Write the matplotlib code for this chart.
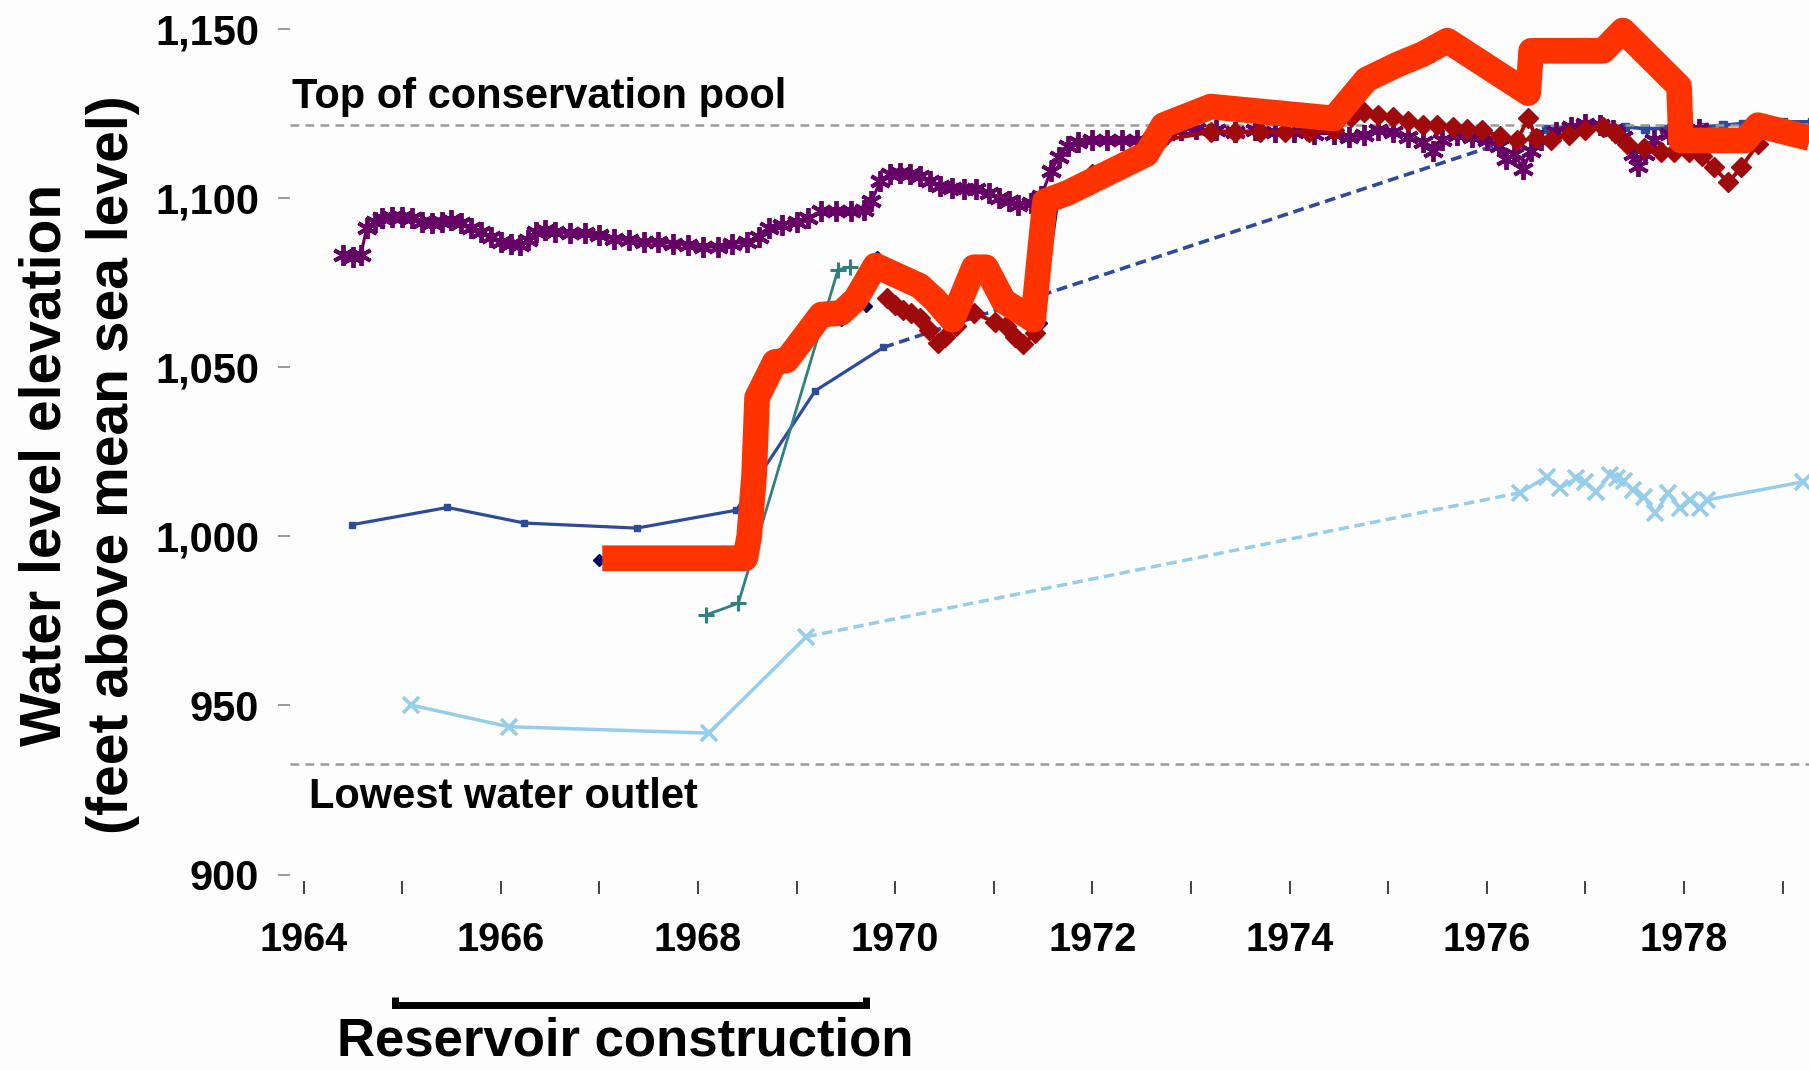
import numpy as np
import matplotlib.pyplot as plt
from matplotlib.ticker import FuncFormatter

plt.rcParams['font.family'] = ['Liberation Sans', 'DejaVu Sans']
plt.rcParams['font.weight'] = 'bold'

# Reference levels (feet above mean sea level)
top_pool = 1121.7
lowest_outlet = 932.8

# Blue well (squares), solid / dashed gap / solid
blue_yr_a = [1964.49, 1965.46, 1966.24, 1967.38, 1968.39, 1969.19, 1969.88]
blue_val_a = [1003.4, 1008.5, 1003.9, 1002.4, 1007.7, 1043.0, 1055.8]
blue_yr_b = [1969.88, 1976.60]
blue_val_b = [1055.8, 1120.5]
blue_yr_c = [1976.60, 1976.80, 1977.00, 1977.20, 1977.40, 1977.60, 1977.80,
             1978.00, 1978.20, 1978.40, 1978.60, 1978.80, 1979.00, 1979.30]
blue_val_c = [1120.5, 1121.0, 1121.5, 1121.5, 1121.0, 1120.5, 1120.5,
              1121.0, 1121.0, 1121.5, 1122.0, 1122.0, 1122.5, 1122.5]

# Light blue well (x markers)
lblue_yr_a = [1965.09, 1966.08, 1968.11, 1969.10]
lblue_val_a = [950.1, 943.7, 941.8, 970.3]
lblue_yr_b = [1969.10, 1976.34]
lblue_val_b = [970.3, 1012.9]
lblue_yr_c = [1976.34, 1976.61, 1976.74, 1976.91, 1977.00, 1977.11, 1977.25,
              1977.32, 1977.39, 1977.48, 1977.59, 1977.71, 1977.84, 1977.96,
              1978.06, 1978.16, 1978.23, 1979.21]
lblue_val_c = [1012.9, 1017.6, 1014.2, 1017.2, 1015.9, 1013.2, 1018.1,
               1017.2, 1016.2, 1013.7, 1011.7, 1006.8, 1012.8, 1008.3,
               1010.7, 1008.3, 1010.7, 1016.1]

# Teal well (+ markers)
teal_yr = [1968.08, 1968.41, 1969.42, 1969.54]
teal_val = [976.7, 980.2, 1078.7, 1079.6]

# Navy well (diamonds), almost entirely under the reservoir line
navy_yr = [1967.00, 1968.45, 1968.55, 1968.62, 1968.80, 1969.20, 1969.45,
           1969.70, 1969.82, 1970.25, 1970.55, 1970.80, 1970.95, 1971.20,
           1971.48, 1971.65, 1972.00, 1972.70, 1973.20, 1974.45, 1974.80,
           1975.45, 1975.60, 1976.40, 1976.45, 1977.20, 1977.40, 1977.95,
           1977.97, 1978.65, 1978.75, 1979.30]
navy_val = [993.0, 993.0, 1015.0, 1042.0, 1050.0, 1062.0, 1064.0,
            1068.0, 1082.5, 1073.0, 1063.0, 1078.0, 1078.5, 1068.0,
            1063.0, 1099.0, 1103.0, 1119.0, 1126.0, 1123.0, 1134.0,
            1142.0, 1146.0, 1131.0, 1143.0, 1143.0, 1148.0, 1132.0,
            1117.0, 1117.0, 1121.0, 1117.5]

# Purple well (asterisks)
purple_yr = [1964.40, 1964.50, 1964.58, 1964.64, 1964.72, 1964.80, 1964.90,
             1965.00, 1965.10, 1965.20, 1965.30, 1965.40, 1965.50, 1965.60,
             1965.70, 1965.80, 1965.90, 1966.00, 1966.10, 1966.20, 1966.28,
             1966.36, 1966.45, 1966.55, 1966.70, 1966.85, 1967.00, 1967.15,
             1967.30, 1967.45, 1967.60, 1967.75, 1967.90, 1968.05, 1968.20,
             1968.35, 1968.50, 1968.62, 1968.72, 1968.85, 1969.00, 1969.12,
             1969.25, 1969.40, 1969.55, 1969.68, 1969.76, 1969.85, 1969.95,
             1970.05, 1970.15, 1970.25, 1970.35, 1970.45, 1970.58, 1970.70,
             1970.82, 1970.95, 1971.05, 1971.15, 1971.25, 1971.38, 1971.48,
             1971.58, 1971.66, 1971.75, 1971.85, 1972.00, 1972.15, 1972.30,
             1972.45, 1972.60, 1972.75, 1972.90, 1973.05, 1973.25, 1973.45,
             1973.65, 1973.85, 1974.05, 1974.25, 1974.45, 1974.60, 1974.75,
             1974.90, 1975.05, 1975.20, 1975.35, 1975.45, 1975.55, 1975.70,
             1975.85, 1976.00, 1976.12, 1976.20, 1976.28, 1976.37, 1976.45,
             1976.55, 1976.70, 1976.85, 1977.00, 1977.15, 1977.28, 1977.38,
             1977.48, 1977.53, 1977.60, 1977.70, 1977.85, 1978.00, 1978.15]
purple_val = [1083.0, 1082.5, 1083.0, 1091.0, 1093.0, 1094.0, 1094.5,
              1094.5, 1094.0, 1093.0, 1092.5, 1093.0, 1093.5, 1092.5,
              1091.0, 1090.0, 1088.5, 1087.0, 1086.5, 1086.0, 1087.5,
              1090.0, 1090.5, 1090.0, 1089.5, 1089.5, 1089.0, 1088.0,
              1087.5, 1087.0, 1087.0, 1086.5, 1086.0, 1085.5, 1085.5,
              1086.5, 1087.0, 1088.5, 1091.0, 1092.0, 1093.0, 1094.0,
              1096.0, 1096.0, 1096.0, 1096.5, 1099.0, 1105.0, 1107.0,
              1107.5, 1107.0, 1106.5, 1105.0, 1103.5, 1103.0, 1102.5,
              1102.5, 1101.5, 1100.0, 1099.0, 1098.0, 1098.5, 1100.5,
              1108.0, 1112.0, 1115.5, 1116.5, 1117.0, 1117.0, 1117.0,
              1117.0, 1117.5, 1119.0, 1120.0, 1120.5, 1120.0, 1119.5,
              1120.0, 1119.5, 1119.5, 1119.0, 1119.0, 1118.0, 1118.5,
              1120.0, 1119.5, 1118.0, 1116.5, 1114.0, 1117.0, 1118.5,
              1118.0, 1117.0, 1115.5, 1111.5, 1113.0, 1108.5, 1114.0,
              1117.0, 1119.5, 1121.0, 1122.0, 1121.5, 1120.0, 1118.0,
              1113.0, 1109.5, 1113.0, 1117.0, 1119.0, 1120.0, 1120.5]

# Dark red well (diamonds)
red_yr = [1969.92, 1970.00, 1970.08, 1970.16, 1970.25, 1970.34, 1970.43,
          1970.51, 1970.62, 1970.80, 1971.01, 1971.12, 1971.22, 1971.30,
          1971.42, 1971.55, 1972.00, 1972.70, 1973.20, 1973.45, 1973.70,
          1973.95, 1974.20, 1974.45, 1974.62, 1974.75, 1974.90, 1975.05,
          1975.20, 1975.35, 1975.50, 1975.66, 1975.80, 1975.95, 1976.13,
          1976.31, 1976.42, 1976.50, 1976.65, 1976.83, 1977.00, 1977.18,
          1977.30, 1977.42, 1977.59, 1977.77, 1977.90, 1978.05, 1978.18,
          1978.30, 1978.45, 1978.58, 1978.75]
red_val = [1070.3, 1068.5, 1067.0, 1066.0, 1064.5, 1061.0, 1057.0,
           1059.0, 1062.0, 1066.0, 1063.3, 1062.0, 1059.0, 1056.8,
           1060.0, 1097.0, 1107.0, 1117.0, 1119.5, 1119.5, 1119.5,
           1119.5, 1119.5, 1120.0, 1124.0, 1125.4, 1124.5, 1124.0,
           1122.7, 1121.7, 1121.5, 1121.0, 1120.5, 1120.0, 1118.3,
           1117.0, 1123.7, 1117.6, 1117.0, 1118.6, 1120.0, 1121.0,
           1119.3, 1115.9, 1114.9, 1113.5, 1113.5, 1113.5, 1112.5,
           1109.0, 1104.6, 1109.0, 1116.0]

# Reservoir water level (thick orange line)
res_yr = [1967.03, 1968.48, 1968.52, 1968.57, 1968.60, 1968.78, 1968.90,
          1969.25, 1969.45, 1969.60, 1969.80, 1970.25, 1970.40, 1970.58,
          1970.80, 1970.92, 1971.10, 1971.40, 1971.52, 1971.75, 1972.55,
          1972.72, 1973.20, 1974.45, 1974.78, 1975.10, 1975.35, 1975.60,
          1976.42, 1976.45, 1977.18, 1977.38, 1977.95, 1977.97, 1978.62,
          1978.75, 1979.30]
res_val = [993.5, 993.5, 1000.0, 1018.0, 1041.0, 1051.5, 1052.0,
           1065.5, 1066.0, 1070.0, 1080.0, 1074.0, 1070.0, 1064.0,
           1079.5, 1079.5, 1069.5, 1064.0, 1099.0, 1101.5, 1113.0,
           1121.5, 1127.0, 1123.5, 1135.0, 1139.5, 1142.5, 1146.5,
           1131.0, 1143.5, 1143.5, 1149.5, 1133.0, 1117.0, 1117.0,
           1121.5, 1117.5]

construction = [1964.93, 1969.70]

year_ticks = list(range(1964, 1980))
elev_ticks = [900, 950, 1000, 1050, 1100, 1150]

fig = plt.figure(figsize=(18.09, 10.70), dpi=100, facecolor='#FDFDFD')
ax = fig.add_axes([290 / 1809, (1070 - 881.3) / 1070,
                   (1809 - 290) / 1809, (881.3 - 18.65) / 1070])
ax.set_facecolor('#FDFDFD')
ax.set_xlim(1963.863, 1979.268)
ax.set_ylim(898, 1153)

# dashed reference lines
ax.axhline(top_pool, color='#9A9A9A', lw=1.8, dashes=(3.5, 2.5), zorder=2)
ax.axhline(lowest_outlet, color='#9A9A9A', lw=1.8, dashes=(3.5, 2.5), zorder=2)

blue = '#2E4A9A'
ax.plot(blue_yr_a, blue_val_a, color=blue, lw=2.3, marker='s', ms=4.5, zorder=1)
ax.plot(blue_yr_b, blue_val_b, color=blue, lw=2.6, dashes=(3, 1.6), zorder=1)
ax.plot(blue_yr_c, blue_val_c, color=blue, lw=2.6, marker='s', ms=5.5, zorder=1)

lblue = '#96CDE8'
ax.plot(lblue_yr_a, lblue_val_a, color=lblue, lw=2.5, marker='x', ms=11, mew=2.6, zorder=1)
ax.plot(lblue_yr_b, lblue_val_b, color=lblue, lw=2.5, dashes=(3, 1.6), zorder=1)
ax.plot(lblue_yr_c, lblue_val_c, color=lblue, lw=2.5, marker='x', ms=11, mew=2.6, zorder=1)

ax.plot(teal_yr, teal_val, color='#2F8080', lw=2, marker='+', ms=11, mew=2.2, zorder=3)
ax.plot(navy_yr, navy_val, color='#000066', lw=2, marker='D', ms=6, zorder=3)
ax.plot(purple_yr, purple_val, color='#660066', lw=2.2, marker=(6, 2, 0), ms=15,
        mew=2.8, zorder=4)
ax.plot(red_yr, red_val, color='#A00A0A', lw=2.8, marker='D', ms=10.5, zorder=5)
ax.plot(res_yr, res_val, color='#FF3300', lw=18.5, solid_joinstyle='round',
        solid_capstyle='butt', zorder=6, clip_on=False)

# annotations
ax.text(1963.88, 1126.6, 'Top of conservation pool', fontsize=30, ha='left', va='baseline')
ax.text(1964.06, 919.6, 'Lowest water outlet', fontsize=30, ha='left', va='baseline')
ax.plot([construction[0], construction[0], construction[1], construction[1]],
        [863.8, 861.4, 861.4, 863.8], color='black', lw=5, clip_on=False,
        solid_joinstyle='miter', solid_capstyle='butt')
ax.text(sum(construction) / 2 - 0.05, 846.6, 'Reservoir construction', fontsize=38,
        ha='center', va='baseline', clip_on=False)

for s in ax.spines.values():
    s.set_visible(False)

ax.set_xticks(year_ticks)
ax.set_xticklabels([str(y) if y % 2 == 0 else '' for y in year_ticks])
ax.set_yticks(elev_ticks)
ax.yaxis.set_major_formatter(FuncFormatter(lambda v, p: f'{v:,.0f}'))
ax.tick_params(axis='x', direction='out', length=9.5, width=1.3, color='#333333',
               pad=19, labelsize=28.5)
ax.tick_params(axis='y', direction='out', length=8.6, width=1.2, color='#888888',
               pad=13.5, labelsize=30)

fig.text(79 / 1809, 1 - 465 / 1070, 'Water level elevation\n(feet above mean sea level)',
         rotation=90, ha='center', va='center', fontsize=41, linespacing=1.32,
         multialignment='center')

fig.savefig('out.png', dpi=100, facecolor=fig.get_facecolor())
